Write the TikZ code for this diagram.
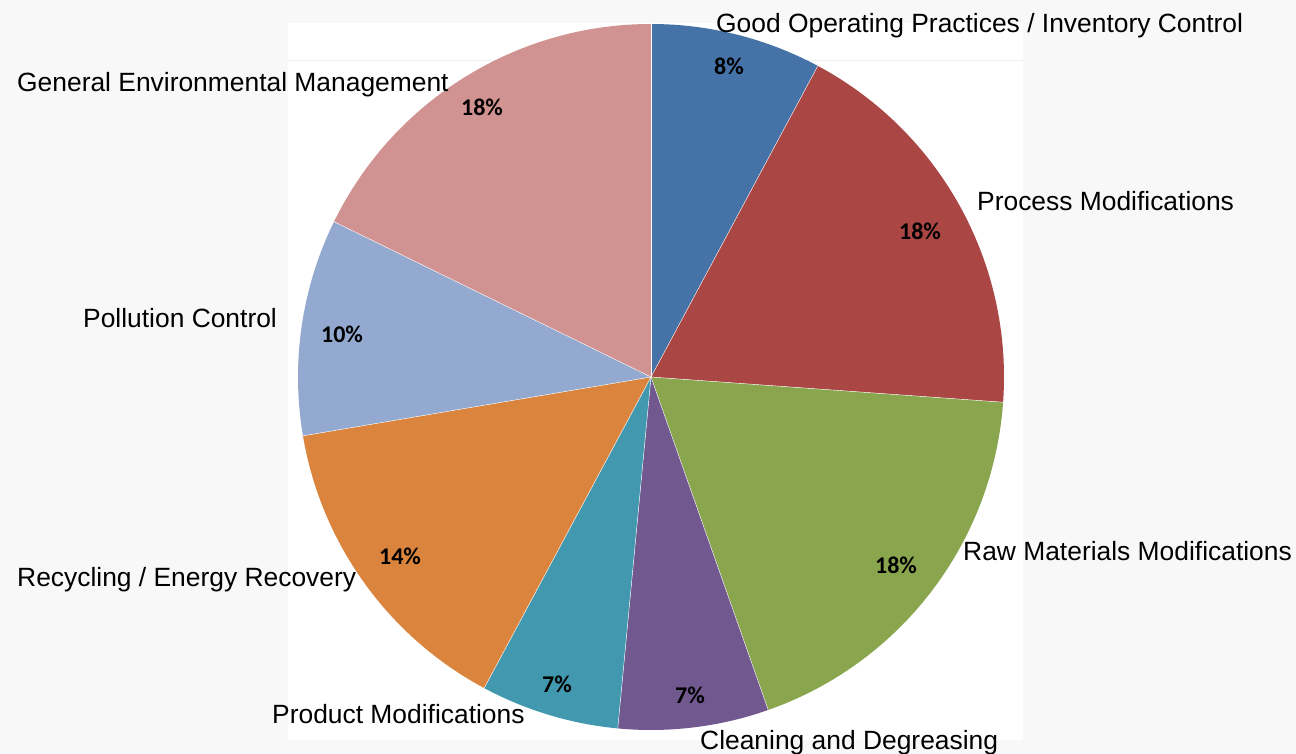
\documentclass[tikz,border=0pt]{standalone}
\usepackage{fontspec}
\setmainfont{Liberation Sans}
\newfontfamily\pctfont{Carlito}
\definecolor{bgout}{HTML}{F8F8F8}
\definecolor{gridl}{HTML}{EFEFEF}
\definecolor{cblue}{HTML}{4572A7}
\definecolor{cred}{HTML}{AA4643}
\definecolor{cgreen}{HTML}{89A54E}
\definecolor{cpurple}{HTML}{71588F}
\definecolor{cteal}{HTML}{4198AF}
\definecolor{corange}{HTML}{DB843D}
\definecolor{clblue}{HTML}{93A9CF}
\definecolor{cpink}{HTML}{D19392}
\tikzset{
  catlabel/.style={anchor=base west, inner sep=0pt, font=\fontsize{26.4}{30}\selectfont, text=black},
  pctlabel/.style={anchor=center, inner sep=0pt, font=\pctfont\bfseries\fontsize{24}{28}\selectfont, text=black},
  sep/.style={draw=white, line width=0.4pt}
}
\begin{document}
\begin{tikzpicture}[x=1pt,y=1pt]
\useasboundingbox (0,0) rectangle (1296,-754);
\fill[bgout] (0,0) rectangle (1296,-754);
\fill[white] (288,-23) rectangle (1023,-740);
\draw[gridl, line width=0.6pt] (288,-60) -- (1023,-60);
\coordinate (O) at (651,-377);
\def\R{353}
\fill[cblue]   (O) -- ++(90:\R)    arc[start angle=90,    end angle=61.8,   radius=\R] -- cycle;
\fill[cred]    (O) -- ++(61.8:\R)  arc[start angle=61.8,  end angle=-4.1,   radius=\R] -- cycle;
\fill[cgreen]  (O) -- ++(-4.1:\R)  arc[start angle=-4.1,  end angle=-70.6,  radius=\R] -- cycle;
\fill[cpurple] (O) -- ++(-70.6:\R) arc[start angle=-70.6, end angle=-95.4,  radius=\R] -- cycle;
\fill[cteal]   (O) -- ++(-95.4:\R) arc[start angle=-95.4, end angle=-118.2, radius=\R] -- cycle;
\fill[corange] (O) -- ++(-118.2:\R) arc[start angle=-118.2, end angle=-170.4, radius=\R] -- cycle;
\fill[clblue]  (O) -- ++(-170.4:\R) arc[start angle=-170.4, end angle=-206.1, radius=\R] -- cycle;
\fill[cpink]   (O) -- ++(-206.1:\R) arc[start angle=-206.1, end angle=-270, radius=\R] -- cycle;
\foreach \a in {90,61.8,-4.1,-70.6,-95.4,-118.2,-170.4,-206.1}
  \draw[sep] (O) -- ++(\a:\R);
% percentages
\node[pctlabel] (p1) at (729,-66)  {8\%};
\node[pctlabel] (p2) at (920,-231) {18\%};
\node[pctlabel] (p3) at (896,-565) {18\%};
\node[pctlabel] (p4) at (690,-695) {7\%};
\node[pctlabel] (p5) at (557,-684) {7\%};
\node[pctlabel] (p6) at (400,-556) {14\%};
\node[pctlabel] (p7) at (342,-334) {10\%};
\node[pctlabel] (p8) at (482,-107) {18\%};
% category labels
\node[catlabel] (l1) at (716,-33)  {Good Operating Practices / Inventory Control};
\node[catlabel] (l2) at (977,-211) {Process Modifications};
\node[catlabel] (l3) at (963,-560) {Raw Materials Modifications};
\node[catlabel] (l4) at (700,-749) {Cleaning and Degreasing};
\node[catlabel] (l5) at (272,-723) {Product Modifications};
\node[catlabel] (l6) at (17,-586)  {Recycling / Energy Recovery};
\node[catlabel] (l7) at (83,-327)  {Pollution Control};
\node[catlabel] (l8) at (17,-92)   {General Environmental Management};
\end{tikzpicture}
\end{document}
